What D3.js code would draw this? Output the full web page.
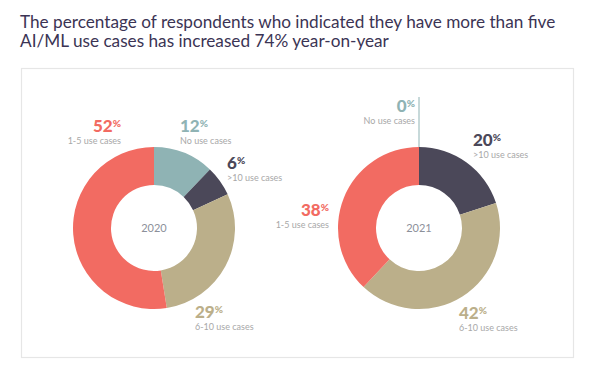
<!DOCTYPE html>
<html>
<head>
<meta charset="utf-8">
<script src="https://cdn.jsdelivr.net/npm/d3@7"></script>
<style>
  body { margin: 0; background: #fff; }
  text { font-family: Lato, "Open Sans", sans-serif; }
</style>
</head>
<body>
<script>
// Data
const categories = ['No use cases', '>10 use cases', '6-10 use cases', '1-5 use cases'];
const years = ['2020', '2021'];
const values2020 = [12, 6, 29, 52];
const values2021 = [0, 20, 42, 38];
const colors = ['#8fb3b4', '#4b4859', '#bbaf8a', '#f26b62'];

const titleLines = [
    'The percentage of respondents who indicated they have more than five',
    'AI/ML use cases has increased 74% year-on-year'
];

// Label anchors, relative to each donut centre
const labelPos2020 = [
    { dx: 26, dy: -95, anchor: 'start' },
    { dx: 73, dy: -58, anchor: 'start' },
    { dx: 41, dy: 91, anchor: 'start' },
    { dx: -33, dy: -95, anchor: 'end' }
];
const labelPos2021 = [
    { dx: -4, dy: -115, anchor: 'end' },
    { dx: 54, dy: -81, anchor: 'start' },
    { dx: 40, dy: 92, anchor: 'start' },
    { dx: -90, dy: -11, anchor: 'end' }
];

const width = 605, height = 366;

const svg = d3.select('body')
    .append('svg')
    .attr('width', width)
    .attr('height', height);

// Title
svg.selectAll('.title')
    .data(titleLines)
    .enter()
    .append('text')
    .attr('class', 'title')
    .attr('x', 20)
    .attr('y', (d, i) => 28 + i * 19)
    .attr('fill', '#3b3454')
    .style('font-size', '17.2px')
    .text(d => d);

// Panel frame
svg.append('rect')
    .attr('x', 21.5)
    .attr('y', 68.5)
    .attr('width', 552)
    .attr('height', 289)
    .attr('fill', '#fff')
    .attr('stroke', '#e6e6e6')
    .attr('stroke-width', 1.2);

const pie = d3.pie().sort(null).value(d => d);
const arc = d3.arc().innerRadius(43).outerRadius(81);

const charts = [
    { year: years[0], values: values2020, labels: labelPos2020, cx: 154, cy: 228 },
    { year: years[1], values: values2021, labels: labelPos2021, cx: 419, cy: 228 }
];

charts.forEach(c => {
    const g = svg.append('g').attr('transform', `translate(${c.cx},${c.cy})`);

    g.selectAll('path')
        .data(pie(c.values))
        .enter()
        .append('path')
        .attr('d', arc)
        .attr('fill', (d, i) => colors[i]);

    g.append('text')
        .attr('text-anchor', 'middle')
        .attr('dy', '0.35em')
        .attr('fill', '#8c909a')
        .style('font-size', '11px')
        .text(c.year);

    // leader line for empty slices
    pie(c.values).forEach((d, i) => {
        if (d.value === 0) {
            const a = d.startAngle;
            const lp = c.labels[i];
            g.append('line')
                .attr('x1', Math.sin(a) * 81)
                .attr('y1', -Math.cos(a) * 81)
                .attr('x2', Math.sin(a) * 81)
                .attr('y2', lp.dy - 16)
                .attr('stroke', colors[i])
                .attr('stroke-width', 1);
        }
    });

    const lab = g.selectAll('.lab')
        .data(c.values)
        .enter()
        .append('g')
        .attr('class', 'lab');

    const pct = lab.append('text')
        .attr('x', (d, i) => c.labels[i].dx)
        .attr('y', (d, i) => c.labels[i].dy - 1.5)
        .attr('text-anchor', (d, i) => c.labels[i].anchor)
        .attr('fill', (d, i) => colors[i])
        .style('font-size', '17px')
        .style('font-weight', 900);
    pct.append('tspan').text(d => d);
    pct.append('tspan')
        .attr('dy', -5)
        .style('font-size', '10px')
        .text('%');

    lab.append('text')
        .attr('x', (d, i) => c.labels[i].dx)
        .attr('y', (d, i) => c.labels[i].dy + 11)
        .attr('text-anchor', (d, i) => c.labels[i].anchor)
        .attr('fill', '#a8a8a8')
        .style('font-size', '9px')
        .text((d, i) => categories[i]);
});
</script>
</body>
</html>
